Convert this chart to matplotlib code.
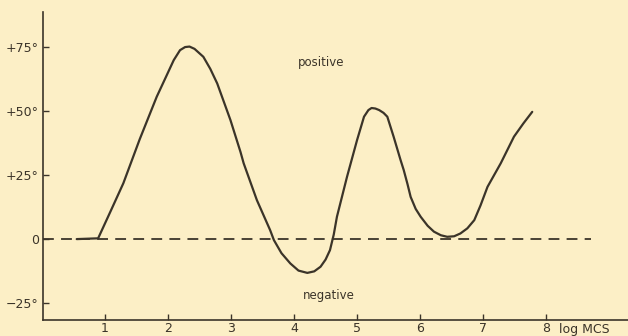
import numpy as np
from matplotlib import pyplot as plt

# curve (log MCS vs phase angle in degrees)
log_mcs = [0.55, 0.89, 1.09, 1.29, 1.55, 1.82, 1.96, 2.09, 2.19, 2.27, 2.34, 2.42,
           2.56, 2.67, 2.78, 2.99, 3.15, 3.20, 3.41, 3.62, 3.68, 3.80, 3.94, 4.07,
           4.21, 4.32, 4.42, 4.50, 4.57, 4.63, 4.68, 4.76, 4.84, 5.00, 5.11, 5.18,
           5.23, 5.29, 5.35, 5.42, 5.48, 5.58, 5.69, 5.74, 5.80, 5.85, 5.93, 6.01,
           6.12, 6.22, 6.33, 6.43, 6.54, 6.64, 6.75, 6.86, 6.96, 7.07, 7.28, 7.49,
           7.64, 7.78]
phase = [0, 0.3, 11, 21.8, 39, 55.6, 63, 69.9, 73.8, 75, 75.2, 74.3,
         71.2, 66.5, 60.8, 46.5, 34, 29.6, 15.2, 3.5, -0.4, -5.5, -9.5, -12.3,
         -13.2, -12.6, -10.8, -8, -4.3, 1.8, 8.7, 16.5, 24.3, 38.7, 47.8, 50.4,
         51.2, 51.0, 50.4, 49.3, 47.8, 40, 30.9, 27, 21.5, 16.5, 11.8, 8.7,
         5.2, 2.9, 1.5, 0.9, 1.1, 2.2, 4.2, 7.4, 13.2, 20.4, 29.6, 40,
         45.2, 49.7]

xticks = [1, 2, 3, 4, 5, 6, 7, 8]
yticks = [-25, 0, 25, 50, 75]
ylabels = ['\u221225\u00b0', '0', '+25\u00b0', '+50\u00b0', '+75\u00b0']

bg = '#fcefc6'
ink = '#3b3429'

fig = plt.figure(figsize=(6.28, 3.36), dpi=100, facecolor=bg)
ax = fig.add_axes([43/628, 16/336, 1 - 43/628, 308/336], facecolor=bg)

ax.plot(log_mcs, phase, color=ink, linewidth=1.6,
        solid_capstyle='round', solid_joinstyle='round')
ax.plot([0.02, 8.71], [0, 0], color=ink, linewidth=1.3, dashes=(6, 4))

ax.set_xlim(0.015, 9.3)
ax.set_ylim(-31.6, 88.7)

for s in ['top', 'right']:
    ax.spines[s].set_visible(False)
for s in ['left', 'bottom']:
    ax.spines[s].set_color(ink)
    ax.spines[s].set_linewidth(1.2)

ax.set_xticks(xticks)
ax.set_xticklabels([str(t) for t in xticks])
ax.set_yticks(yticks)
ax.set_yticklabels(ylabels)
ax.tick_params(direction='in', length=4, width=1, colors=ink, labelsize=9)
ax.tick_params(axis='x', pad=1.5)
ax.tick_params(axis='y', pad=3)

ax.text(4.43, 69, 'positive', color=ink, fontsize=8.5, ha='center', va='center')
ax.text(4.55, -22, 'negative', color=ink, fontsize=8.5, ha='center', va='center')
ax.text(8.2, -32.8, 'log MCS', color=ink, fontsize=9, ha='left', va='top')

fig.savefig('out.png', dpi=100, facecolor=bg)
